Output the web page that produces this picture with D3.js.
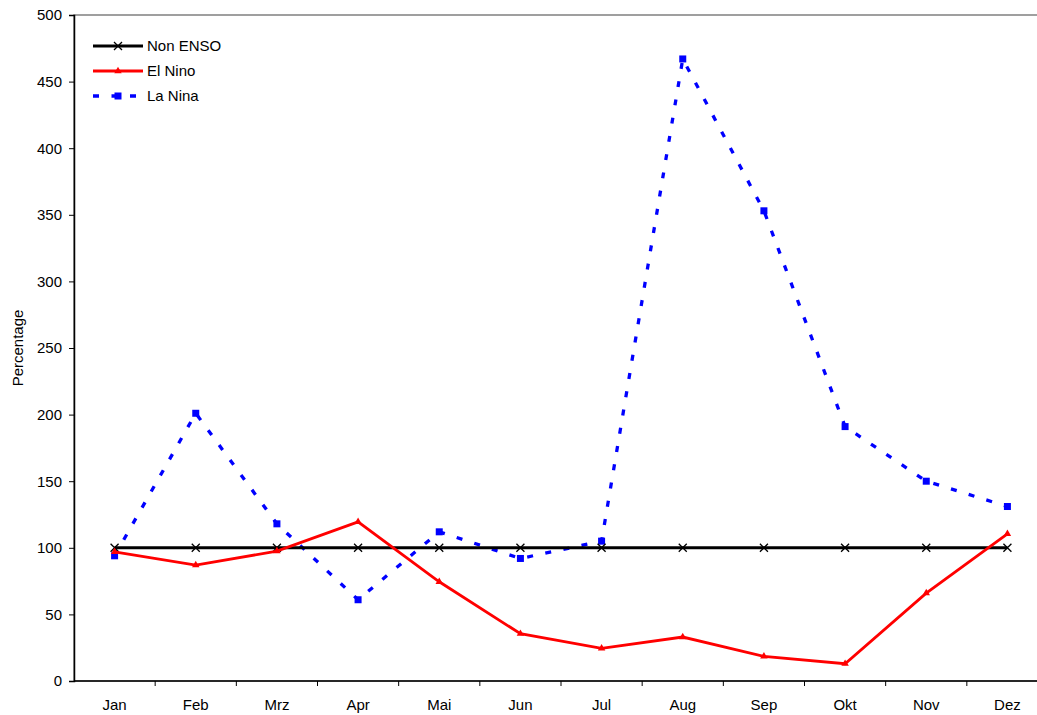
<!DOCTYPE html>
<html>
<head>
<meta charset="utf-8">
<script src="https://cdn.jsdelivr.net/npm/d3@7"></script>
<style>
  body { margin: 0; background: #fff; }
  svg { display: block; font-family: "Liberation Sans", Arial, sans-serif; }
</style>
</head>
<body>
<div id="chart"></div>
<script>
const months = ["Jan", "Feb", "Mrz", "Apr", "Mai", "Jun", "Jul", "Aug", "Sep", "Okt", "Nov", "Dez"];
const nonEnso = [100, 100, 100, 100, 100, 100, 100, 100, 100, 100, 100, 100];
const elNino = [97, 87, 97.5, 119.5, 74.5, 35.5, 24.5, 33, 18.5, 13, 66, 110.5];
const laNina = [94, 201, 118, 61, 112, 92, 105, 467, 353, 191, 150, 131];
const yTicks = [0, 50, 100, 150, 200, 250, 300, 350, 400, 450, 500];

const width = 1037, height = 715;
const margin = { left: 74, top: 15, right: -11, bottom: 34 }; // plot runs past the right edge
const fontSize = 15;

const svg = d3.select("#chart").append("svg")
  .attr("width", width)
  .attr("height", height);

const x = d3.scaleBand()
  .domain(months)
  .range([margin.left, width - margin.right]);

const y = d3.scaleLinear()
  .domain([0, 500])
  .range([height - margin.bottom, margin.top]);

const cx = d => x(d) + x.bandwidth() / 2;

// frame (top/right in grey)
svg.append("rect")
  .attr("x", margin.left)
  .attr("y", margin.top)
  .attr("width", width - margin.right - margin.left)
  .attr("height", y(0) - margin.top)
  .attr("fill", "none")
  .attr("stroke", "#808080")
  .attr("stroke-width", 1.5);

// y axis
const yAxis = svg.append("g")
  .attr("transform", `translate(${margin.left},0)`)
  .call(d3.axisLeft(y).tickValues(yTicks).tickSize(5).tickPadding(7));
yAxis.select(".domain").attr("stroke", "#000").attr("stroke-width", 1.5);
yAxis.selectAll(".tick line").attr("stroke", "#000");
yAxis.selectAll("text").attr("font-size", fontSize).attr("fill", "#000")
  .style("font-family", "Liberation Sans, Arial, sans-serif");

// x axis with ticks between categories
const xAxis = svg.append("g")
  .attr("transform", `translate(0,${y(0)})`);
xAxis.append("line")
  .attr("x1", margin.left).attr("x2", width - margin.right)
  .attr("stroke", "#000").attr("stroke-width", 1.5);
xAxis.selectAll(".sep")
  .data(months.slice(1))
  .join("line")
  .attr("class", "sep")
  .attr("x1", d => x(d)).attr("x2", d => x(d))
  .attr("y1", 0).attr("y2", 5)
  .attr("stroke", "#000");
xAxis.selectAll(".lbl")
  .data(months)
  .join("text")
  .attr("class", "lbl")
  .attr("x", d => cx(d))
  .attr("y", 29)
  .attr("text-anchor", "middle")
  .attr("font-size", fontSize)
  .text(d => d);

// axis title
svg.append("text")
  .attr("transform", `translate(23,${(margin.top + y(0)) / 2}) rotate(-90)`)
  .attr("text-anchor", "middle")
  .attr("font-size", fontSize)
  .text("Percentage");

const line = d3.line()
  .x((d, i) => cx(months[i]))
  .y(d => y(d));

const series = [
  { name: "Non ENSO", values: nonEnso, color: "#000", width: 3, dash: null, marker: "x" },
  { name: "El Nino", values: elNino, color: "#ff0000", width: 2.8, dash: null, marker: "tri" },
  { name: "La Nina", values: laNina, color: "#0000ff", width: 3.3, dash: "6,12.5", marker: "sq" }
];

function drawMarker(g, type, color) {
  if (type === "x") {
    g.append("path").attr("d", "M-4,-4L4,4M-4,4L4,-4")
      .attr("stroke", color).attr("stroke-width", 1.3).attr("fill", "none");
  } else if (type === "tri") {
    g.append("path").attr("d", d3.symbol(d3.symbolTriangle, 24)())
      .attr("fill", color);
  } else {
    g.append("rect").attr("x", -3.5).attr("y", -3.5).attr("width", 7).attr("height", 7)
      .attr("fill", color);
  }
}

// draw in order so La Nina under, black, red on top like reference
[series[2], series[0], series[1]].forEach(s => {
  const g = svg.append("g");
  g.append("path")
    .datum(s.values)
    .attr("d", line)
    .attr("fill", "none")
    .attr("stroke", s.color)
    .attr("stroke-width", s.width)
    .attr("stroke-dasharray", s.dash);
  s.values.forEach((v, i) => {
    const m = g.append("g").attr("transform", `translate(${cx(months[i])},${y(v)})`);
    drawMarker(m, s.marker, s.color);
  });
});

// legend
const legend = svg.append("g").attr("transform", "translate(93,46)");
series.forEach((s, i) => {
  const row = legend.append("g").attr("transform", `translate(0,${i * 25})`);
  row.append("line")
    .attr("x1", 0).attr("x2", 50)
    .attr("stroke", s.color)
    .attr("stroke-width", s.width)
    .attr("stroke-dasharray", s.dash);
  const m = row.append("g").attr("transform", "translate(25,0)");
  drawMarker(m, s.marker, s.color);
  row.append("text")
    .attr("x", 54)
    .attr("y", 5)
    .attr("font-size", fontSize)
    .text(s.name);
});
</script>
</body>
</html>
